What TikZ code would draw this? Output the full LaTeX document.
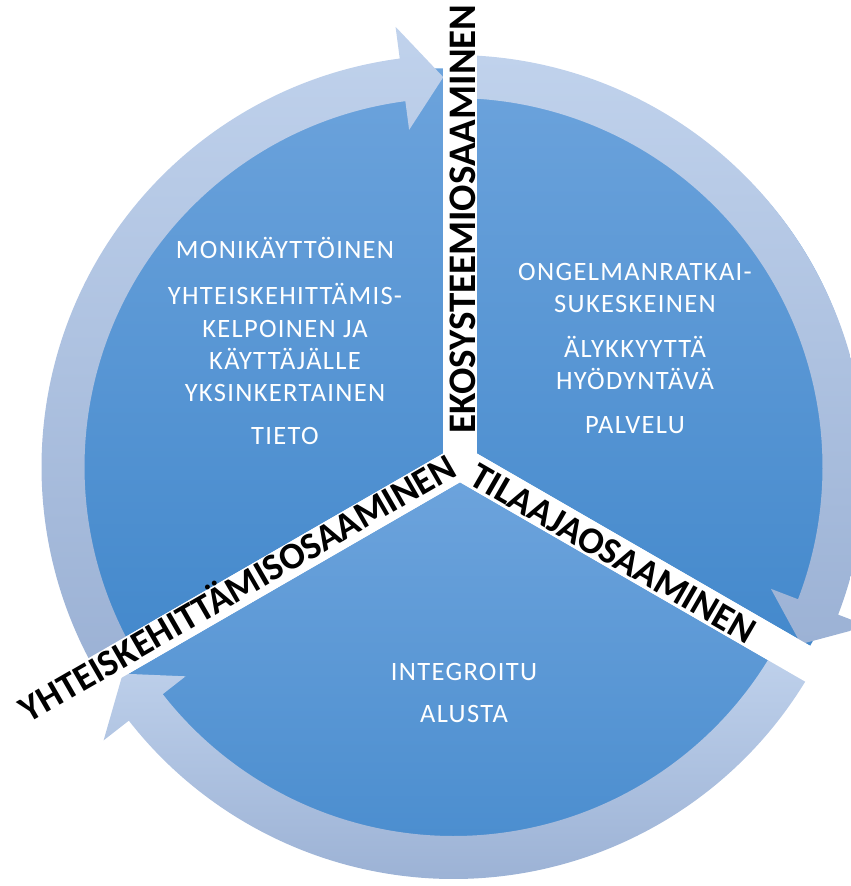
\documentclass[tikz,border=0pt]{standalone}
\usepackage{fontspec}
\setmainfont{Carlito}
\newfontfamily\bodyfont[LetterSpace=5]{Carlito}
\usetikzlibrary{calc}

\definecolor{segtop}{RGB}{108,163,220}
\definecolor{segbot}{RGB}{68,137,204}
\definecolor{ringtop}{RGB}{192,210,236}
\definecolor{ringbot}{RGB}{156,178,213}

\tikzset{
  segment/.style={top color=segtop, bottom color=segbot},
  ringarrow/.style={top color=ringtop, bottom color=ringbot},
  strip/.style={fill=white},
  itemtext/.style={anchor=base, text=white, inner sep=0pt,
    font=\bodyfont\fontsize{26.5}{30}\selectfont},
  sidelabel/.style={inner sep=0pt, text height=24pt, text depth=0pt,
    font=\fontsize{37.5}{40}\selectfont\bfseries},
}

\begin{document}
\begin{tikzpicture}[x=1pt, y=1pt]
  \pgfmathsetmacro{\rin}{369}
  \pgfmathsetmacro{\rout}{412}
  \pgfmathsetmacro{\rseg}{385}
  \clip (0,0) rectangle (851,886);
  \coordinate (O) at (453.5,419); % ring centre
  \coordinate (S) at (460,423);   % strips meet here
  % Pie segments, pulled apart
  \shade[segment] (443.3,432.7) -- ++(90:\rseg) arc[start angle=90, end angle=210, radius=\rseg] -- cycle;
  \shade[segment] (476.7,432.7) -- ++(-30:\rseg) arc[start angle=-30, end angle=90, radius=\rseg] -- cycle;
  \shade[segment] (460,403.7) -- ++(210:\rseg) arc[start angle=210, end angle=330, radius=\rseg] -- cycle;
  % Ring arrows: tail / base of head / tip
  \foreach \t/\b/\p in {89/-21/-27, -29/-142/-148, 209/97.5/91.5}{
    \shade[ringarrow] ($(O)+(\t:\rout)$) arc[start angle=\t, end angle=\b, radius=\rout]
      -- ($(O)+(\b:444)$) -- ($(O)+(\p:390)$) -- ($(O)+(\b:340)$)
      -- ($(O)+(\b:\rin)$) arc[start angle=\b, end angle=\t, radius=\rin] -- cycle;
  }
  % White strips between the segments
  \foreach \a in {90,-30,210}
    \fill[strip, rotate around={\a:(S)}] ($(S)+(0,-16.7)$) rectangle ++(620,33.4);
  % Top-left segment
  \node[itemtext] (moni) at (285,627) {MONIKÄYTTÖINEN};
  \node[itemtext] (yht1) at (285,581) {YHTEISKEHITTÄMIS-};
  \node[itemtext] (yht2) at (285,548) {KELPOINEN JA};
  \node[itemtext] (yht3) at (285,516) {KÄYTTÄJÄLLE};
  \node[itemtext] (yht4) at (285,484) {YKSINKERTAINEN};
  \node[itemtext] (tieto) at (285,441) {TIETO};
  % Right segment
  \node[itemtext] (ong1) at (635,605) {ONGELMANRATKAI-};
  \node[itemtext] (ong2) at (635,573) {SUKESKEINEN};
  \node[itemtext] (aly1) at (635,528) {ÄLYKKYYTTÄ};
  \node[itemtext] (aly2) at (635,496) {HYÖDYNTÄVÄ};
  \node[itemtext] (palvelu) at (635,452) {PALVELU};
  % Bottom segment
  \node[itemtext] (integ) at (464,205) {INTEGROITU};
  \node[itemtext] (alusta) at (464,163) {ALUSTA};
  % Labels in the strips
  \node[sidelabel, rotate=90, text height=25pt, font=\fontsize{39}{40}\selectfont\bfseries] (eko) at (463,667) {EKOSYSTEEMIOSAAMINEN};
  \node[sidelabel, rotate=-30] (tilaaja) at (613,332.5) {TILAAJAOSAAMINEN};
  \node[sidelabel, rotate=30] (yhteis) at (238,297.5) {YHTEISKEHITTÄMISOSAAMINEN};
\end{tikzpicture}
\end{document}
